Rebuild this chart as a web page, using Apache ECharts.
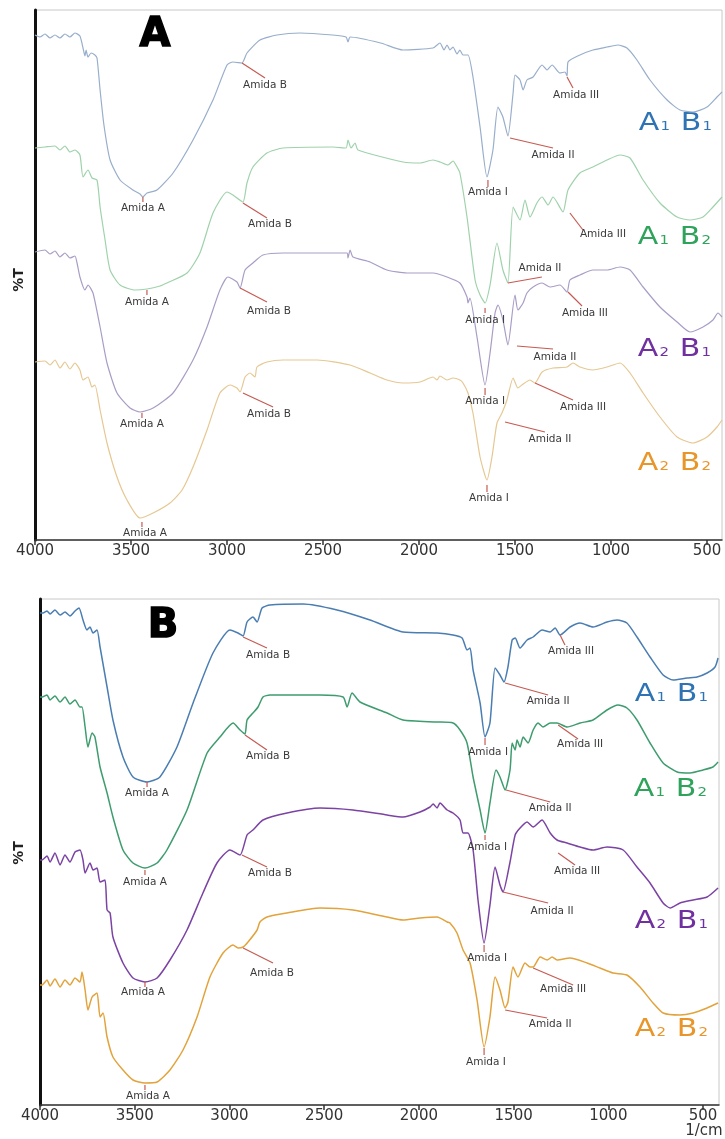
<!DOCTYPE html>
<html>
<head>
<meta charset="utf-8">
<script src="https://cdn.jsdelivr.net/npm/echarts@6/dist/echarts.min.js"></script>
<style>html,body{margin:0;padding:0;background:#fff}#c{width:725px;height:1139px}</style>
</head>
<body>
<div id="c"></div>
<script>
// ---- tick labels ----
const wnTicks = [4000, 3500, 3000, 2500, 2000, 1500, 1000, 500];
const sampleNames = ['A1 B1', 'A1 B2', 'A2 B1', 'A2 B2'];

// ---- Panel A spectra [wavenumber, %T (arbitrary, stacked)] ----
const panelA_A1B1 = [[4000,505],[3974,503],[3948,506],[3922,502],[3896,505],[3870,502],[3844,506],[3818,503],[3792,507],[3766,504],[3750,492],[3740,484],[3734,490],[3724,483],[3708,487],[3688,485],[3677,482],[3661,450],[3641,415],[3609,380],[3557,360],[3490,350],[3453,346],[3438,343],[3417,347],[3365,350],[3281,367],[3177,400],[3073,440],[3000,475],[2969,478],[2922,477],[2896,487],[2828,500],[2740,505],[2620,507],[2450,505],[2380,503],[2370,498],[2359,503],[2200,497],[2083,490],[1927,492],[1891,497],[1870,490],[1854,495],[1839,490],[1823,493],[1802,486],[1787,490],[1771,485],[1745,485],[1719,463],[1682,413],[1646,363],[1615,390],[1589,433],[1563,423],[1537,404],[1510,447],[1500,465],[1474,460],[1458,450],[1438,460],[1406,463],[1359,475],[1333,470],[1307,475],[1266,467],[1240,468],[1229,464],[1224,478],[1162,485],[1094,490],[1021,493],[964,495],[917,492],[865,480],[797,460],[708,440],[641,430],[573,428],[500,433],[448,443],[422,448]];
const panelA_A1B2 = [[4000,392],[3948,393],[3896,394],[3870,390],[3844,394],[3818,388],[3792,390],[3766,385],[3750,363],[3724,370],[3703,362],[3677,360],[3661,333],[3635,300],[3609,270],[3557,255],[3479,250],[3417,251],[3349,254],[3313,257],[3208,267],[3141,287],[3073,327],[3000,348],[2969,345],[2917,338],[2896,357],[2865,373],[2792,387],[2708,392],[2448,393],[2380,392],[2370,400],[2354,392],[2333,397],[2318,390],[2083,378],[1995,377],[1927,380],[1891,378],[1849,375],[1823,379],[1802,373],[1787,367],[1750,323],[1708,260],[1682,245],[1656,237],[1630,255],[1594,297],[1563,270],[1537,257],[1510,333],[1474,320],[1448,340],[1422,323],[1386,337],[1359,343],[1328,335],[1302,343],[1250,328],[1224,350],[1162,367],[1094,373],[1021,380],[953,385],[901,382],[833,360],[745,337],[656,323],[589,320],[521,323],[469,333],[422,343]];
const panelA_A2B1 = [[4000,288],[3948,290],[3922,286],[3896,289],[3870,283],[3844,287],[3818,282],[3792,284],[3781,277],[3766,263],[3740,250],[3724,255],[3698,247],[3661,213],[3625,177],[3573,147],[3505,132],[3453,128],[3385,132],[3281,147],[3177,180],[3104,213],[3037,250],[2995,263],[2948,258],[2932,252],[2906,270],[2865,277],[2813,285],[2708,287],[2375,287],[2370,282],[2359,290],[2344,283],[2255,278],[2167,270],[2063,267],[1927,267],[1854,263],[1787,257],[1750,243],[1745,237],[1735,242],[1698,203],[1656,155],[1630,187],[1604,227],[1589,235],[1563,220],[1537,195],[1500,245],[1485,230],[1458,237],[1438,247],[1406,253],[1359,257],[1318,253],[1266,255],[1229,248],[1214,260],[1162,265],[1094,270],[1021,270],[953,273],[901,270],[833,253],[745,233],[656,218],[589,208],[521,213],[469,220],[443,227],[422,223]];
const panelA_A2B2 = [[4000,178],[3948,179],[3922,175],[3896,180],[3870,172],[3844,178],[3818,171],[3792,177],[3766,170],[3750,160],[3724,163],[3703,153],[3688,155],[3661,130],[3625,97],[3573,63],[3521,40],[3453,22],[3385,27],[3297,37],[3234,50],[3177,73],[3104,110],[3037,147],[2984,155],[2948,152],[2932,148],[2906,163],[2880,167],[2854,163],[2844,173],[2792,178],[2708,180],[2531,180],[2359,175],[2255,167],[2167,160],[2083,157],[1995,158],[1927,163],[1906,160],[1891,164],[1854,160],[1823,162],[1787,160],[1771,157],[1745,147],[1719,127],[1682,83],[1646,60],[1620,83],[1594,117],[1568,127],[1542,140],[1510,162],[1485,152],[1464,155],[1422,160],[1396,157],[1359,168],[1302,172],[1229,173],[1198,177],[1162,173],[1094,170],[1021,173],[953,177],[901,167],[833,147],[745,123],[656,103],[573,97],[500,103],[448,113],[422,120]];

// ---- Panel B spectra ----
const panelB_A1B1 = [[4000,492],[3984,492],[3963,494],[3947,491],[3921,495],[3894,490],[3868,493],[3842,489],[3815,494],[3794,497],[3773,485],[3752,475],[3736,478],[3720,472],[3699,475],[3683,458],[3646,418],[3615,385],[3562,348],[3509,328],[3435,323],[3367,328],[3277,358],[3192,402],[3087,452],[2997,475],[2955,472],[2928,469],[2907,483],[2876,488],[2854,483],[2828,497],[2786,500],[2612,501],[2432,495],[2258,485],[2084,473],[1904,472],[1820,470],[1772,467],[1746,455],[1730,457],[1714,435],[1677,402],[1651,368],[1625,382],[1598,437],[1572,430],[1551,423],[1530,438],[1508,465],[1492,467],[1466,457],[1429,465],[1397,468],[1350,475],[1307,473],[1281,477],[1255,470],[1202,478],[1149,482],[1081,478],[1007,483],[954,485],[902,482],[849,468],[780,448],[711,430],[658,425],[585,427],[532,428],[479,432],[437,438],[421,447]];
const panelB_A1B2 = [[4000,408],[3989,408],[3963,410],[3947,405],[3921,409],[3894,403],[3868,408],[3842,401],[3815,405],[3789,398],[3778,398],[3762,378],[3747,358],[3725,372],[3710,368],[3683,338],[3646,312],[3615,288],[3562,255],[3509,242],[3446,237],[3382,242],[3330,255],[3224,295],[3118,352],[3050,368],[2981,382],[2944,375],[2918,371],[2907,385],[2876,392],[2849,398],[2823,408],[2786,410],[2522,410],[2400,408],[2379,398],[2353,412],[2311,403],[2168,392],[2084,385],[1904,383],[1820,382],[1783,375],[1746,362],[1714,328],[1677,295],[1651,272],[1625,302],[1593,335],[1572,328],[1545,315],[1519,335],[1508,362],[1492,355],[1482,365],[1466,358],[1450,368],[1424,362],[1397,375],[1371,382],[1345,378],[1307,382],[1271,382],[1218,378],[1149,382],[1081,385],[1007,395],[949,400],[902,397],[849,385],[780,362],[711,342],[637,333],[569,332],[500,335],[448,338],[421,343]];
const panelB_A2B1 = [[4000,245],[3989,245],[3963,249],[3947,243],[3921,252],[3894,240],[3868,250],[3842,243],[3815,253],[3789,255],[3773,245],[3762,232],[3736,242],[3720,235],[3699,237],[3683,223],[3657,225],[3646,195],[3630,192],[3615,168],[3562,142],[3509,127],[3446,123],[3382,127],[3314,145],[3224,175],[3140,212],[3066,242],[2997,255],[2944,250],[2907,270],[2876,275],[2823,285],[2696,292],[2522,297],[2348,295],[2168,290],[2084,288],[1994,293],[1941,298],[1925,301],[1904,297],[1889,302],[1851,295],[1820,292],[1783,285],[1767,272],[1741,272],[1714,255],[1688,205],[1656,162],[1625,200],[1598,238],[1572,220],[1556,213],[1519,243],[1492,270],[1466,277],[1429,283],[1397,278],[1350,285],[1307,272],[1271,265],[1218,262],[1149,258],[1081,255],[1007,258],[922,255],[849,238],[780,222],[711,202],[674,197],[622,202],[553,205],[479,208],[421,217]];
const panelB_A2B2 = [[4000,120],[3989,120],[3963,125],[3947,119],[3921,126],[3894,118],[3868,125],[3842,120],[3815,127],[3789,123],[3778,133],[3762,115],[3747,95],[3725,108],[3699,112],[3683,88],[3667,92],[3646,68],[3615,48],[3562,35],[3509,25],[3446,22],[3382,23],[3314,35],[3245,55],[3171,88],[3103,128],[3034,152],[2981,160],[2955,157],[2928,158],[2902,163],[2854,175],[2839,183],[2802,188],[2696,192],[2522,197],[2348,195],[2168,188],[2084,185],[1994,187],[1904,188],[1851,183],[1836,182],[1799,172],[1767,155],[1730,142],[1693,105],[1656,58],[1625,88],[1598,128],[1572,115],[1545,97],[1530,103],[1503,138],[1477,128],[1440,142],[1413,138],[1397,138],[1360,148],[1323,145],[1297,148],[1271,145],[1202,147],[1112,142],[1044,137],[975,132],[902,130],[833,118],[764,102],[711,92],[622,90],[553,92],[479,97],[421,102]];

// ---- band annotations: [wnPeak, tPeak, wnLineEnd, tLineEnd, wnText, tText, label] ----
const annotA = [
  [3438,343,3438,338,3438,332,'Amida A'],[2922,477,2802,462,2802,455,'Amida B'],[1641,360,1641,353,1641,348,'Amida I'],[1526,402,1302,392,1302,385,'Amida II'],[1229,463,1198,452,1182,445,'Amida III'],
  [3417,250,3417,245,3417,238,'Amida A'],[2917,337,2792,322,2776,316,'Amida B'],[1656,232,1656,227,1656,220,'Amida I'],[1537,257,1360,263,1370,272,'Amida II'],[1214,327,1146,310,1042,306,'Amida III'],
  [3443,127,3443,122,3443,116,'Amida A'],[2932,252,2792,238,2781,229,'Amida B'],[1656,152,1656,145,1656,139,'Amida I'],[1490,194,1302,191,1292,183,'Amida II'],[1224,248,1151,234,1136,227,'Amida III'],
  [3443,18,3443,13,3427,7,'Amida A'],[2917,147,2760,133,2781,126,'Amida B'],[1646,55,1646,48,1636,42,'Amida I'],[1552,118,1344,108,1318,101,'Amida II'],[1396,157,1198,140,1146,133,'Amida III']
];
const annotB = [
  [3435,323,3435,318,3435,312,'Amida A'],[2928,468,2802,457,2796,450,'Amida B'],[1651,367,1651,360,1635,353,'Amida I'],[1545,422,1318,410,1318,404,'Amida II'],[1255,470,1229,460,1197,454,'Amida III'],
  [3446,235,3446,230,3446,223,'Amida A'],[2918,370,2802,355,2796,349,'Amida B'],[1651,270,1651,265,1640,258,'Amida I'],[1540,315,1307,303,1307,297,'Amida II'],[1265,380,1160,366,1149,361,'Amida III'],
  [3446,123,3446,118,3456,113,'Amida A'],[2934,250,2802,238,2786,232,'Amida B'],[1656,160,1656,153,1640,147,'Amida I'],[1556,213,1318,202,1297,194,'Amida II'],[1265,252,1176,240,1165,234,'Amida III'],
  [3446,20,3446,15,3430,9,'Amida A'],[2928,157,2770,142,2775,132,'Amida B'],[1656,57,1656,50,1646,43,'Amida I'],[1545,95,1323,87,1307,81,'Amida II'],[1397,137,1186,120,1239,116,'Amida III']
];

const colorsA = ['#98aecb', '#9fd2ab', '#a99dc6', '#e6c893'];
const colorsB = ['#4a7db2', '#3e9c6e', '#7b43a3', '#e2a33c'];
const labelColors = ['#2e74b5', '#2fa35b', '#7030a0', '#e8952a'];

const chart = echarts.init(document.getElementById('c'), null, {renderer: 'canvas'});

function lineSeries(data, color, idx, width) {
  return {type: 'line', data: data, xAxisIndex: idx, yAxisIndex: idx, showSymbol: false,
    smooth: 0.2, silent: true, lineStyle: {color: color, width: width}, z: 2};
}
function annotSeries(list, idx) {
  return {
    type: 'custom', xAxisIndex: idx, yAxisIndex: idx, silent: true, z: 3,
    data: list.map(a => a.slice(0, 6)),
    renderItem: function (params, api) {
      const p1 = api.coord([api.value(0), api.value(1)]);
      const p2 = api.coord([api.value(2), api.value(3)]);
      const pt = api.coord([api.value(4), api.value(5)]);
      return {type: 'group', children: [
        {type: 'line', shape: {x1: p1[0], y1: p1[1], x2: p2[0], y2: p2[1]}, style: {stroke: '#c65a52', lineWidth: 1.2}},
        {type: 'text', x: pt[0], y: pt[1], style: {text: list[params.dataIndex][6], fill: '#3a3a3a',
          font: '10.5px "DejaVu Sans"', align: 'center', verticalAlign: 'middle'}}
      ]};
    }
  };
}
function xAx(idx, min) {
  return {type: 'value', gridIndex: idx, inverse: true, min: min, max: 4000,
    axisLine: {show: true, lineStyle: {color: '#333', width: 1.5}},
    axisTick: {show: true, inside: false, length: 5, lineStyle: {color: '#333', width: 1.5}, customValues: wnTicks},
    axisLabel: {customValues: wnTicks, color: '#333', fontSize: 15, fontFamily: 'DejaVu Sans', margin: 4,
      formatter: v => String(v)},
    splitLine: {show: false}};
}
function yAx(idx, max) {
  return {type: 'value', gridIndex: idx, min: 0, max: max,
    axisLine: {show: true, lineStyle: {color: '#111', width: 3}},
    axisTick: {show: false}, axisLabel: {show: false}, splitLine: {show: false}};
}
function legendText(i, x, y) {
  const n = sampleNames[i].split(' ');
  return {type: 'text', x: x, y: y, scaleX: 1.25, originX: 0, originY: 0,
    style: {text: '{a|' + n[0][0] + '}{s|' + n[0][1] + '}{a| ' + n[1][0] + '}{s|' + n[1][1] + '}',
      align: 'center', verticalAlign: 'middle',
      rich: {a: {fontSize: 24, fontFamily: 'DejaVu Sans', fill: labelColors[i], color: labelColors[i]},
             s: {fontSize: 12, fontFamily: 'DejaVu Sans', fill: labelColors[i], color: labelColors[i], verticalAlign: 'bottom', padding: [0, 1, 3, 1]}}}};
}

const option = {
  animation: false,
  backgroundColor: '#fff',
  grid: [
    {left: 35, top: 10, width: 687, height: 530, show: true, borderColor: '#c8c8c8', borderWidth: 1},
    {left: 40, top: 599, width: 679, height: 506, show: true, borderColor: '#c8c8c8', borderWidth: 1}
  ],
  xAxis: [xAx(0, 422), xAx(1, 416)],
  yAxis: [yAx(0, 530), yAx(1, 506)],
  series: [
    lineSeries(panelA_A1B1, colorsA[0], 0, 1.2),
    lineSeries(panelA_A1B2, colorsA[1], 0, 1.2),
    lineSeries(panelA_A2B1, colorsA[2], 0, 1.2),
    lineSeries(panelA_A2B2, colorsA[3], 0, 1.2),
    lineSeries(panelB_A1B1, colorsB[0], 1, 1.5),
    lineSeries(panelB_A1B2, colorsB[1], 1, 1.5),
    lineSeries(panelB_A2B1, colorsB[2], 1, 1.5),
    lineSeries(panelB_A2B2, colorsB[3], 1, 1.5),
    annotSeries(annotA, 0),
    annotSeries(annotB, 1)
  ],
  graphic: [
    {type: 'text', x: 155, y: 36, style: {text: 'A', font: 'bold 40px "DejaVu Sans"', fill: '#000', stroke: '#000', lineWidth: 1.5, align: 'center', verticalAlign: 'middle'}},
    {type: 'text', x: 163, y: 627, style: {text: 'B', font: 'bold 40px "DejaVu Sans"', fill: '#000', stroke: '#000', lineWidth: 1.5, align: 'center', verticalAlign: 'middle'}},
    {type: 'text', x: 19, y: 280, rotation: Math.PI / 2, originX: 0, originY: 0, style: {text: '%T', font: 'bold 14px "DejaVu Sans"', fill: '#222', align: 'center', verticalAlign: 'middle'}},
    {type: 'text', x: 19, y: 853, rotation: Math.PI / 2, originX: 0, originY: 0, style: {text: '%T', font: 'bold 14px "DejaVu Sans"', fill: '#222', align: 'center', verticalAlign: 'middle'}},
    {type: 'text', x: 704, y: 1131, style: {text: '1/cm', font: '15px "DejaVu Sans"', fill: '#333', align: 'center', verticalAlign: 'middle'}},
    legendText(0, 676, 124), legendText(1, 675, 238), legendText(2, 675, 350), legendText(3, 675, 464),
    legendText(0, 672, 695), legendText(1, 671, 790), legendText(2, 672, 922), legendText(3, 672, 1030)
  ]
};
chart.setOption(option);
</script>
</body>
</html>
